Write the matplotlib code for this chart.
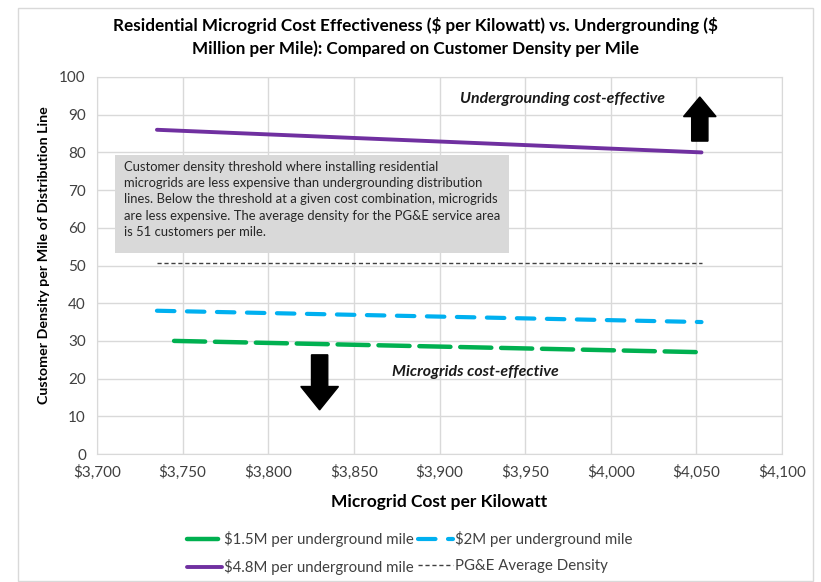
import matplotlib
matplotlib.use("Agg")
import matplotlib.pyplot as plt
from matplotlib.patches import Rectangle, FancyArrow

plt.rcParams['font.family'] = ['Lato', 'DejaVu Sans']

# Data
cost_x = [3735, 4053]
green_x = [3745, 4053]
y_1_5M = [30, 27]
y_2M = [38, 35]
y_4_8M = [86, 80]
pge_avg = [50.7, 50.7]
x_ticks = [3700, 3750, 3800, 3850, 3900, 3950, 4000, 4050, 4100]
y_ticks = [0, 10, 20, 30, 40, 50, 60, 70, 80, 90, 100]

fig = plt.figure(figsize=(8.21, 5.82), dpi=100)
ax = fig.add_axes([97/821, 1-454/582, (782-97)/821, (454-77)/582])

ax.plot(green_x, y_1_5M, color='#00B050', lw=3.2, dashes=(7, 2.2), solid_capstyle='round',
        dash_capstyle='round', label='$1.5M per underground mile')
ax.plot(cost_x, y_2M, color='#00B0F0', lw=3.0, dashes=(4.2, 3), dash_capstyle='round',
        label='$2M per underground mile')
ax.plot(cost_x, y_4_8M, color='#7030A0', lw=2.8, solid_capstyle='round',
        label='$4.8M per underground mile')
ax.plot(cost_x, pge_avg, color='#404040', lw=1.0, dashes=(3, 2),
        label='PG&E Average Density')

ax.set_xlim(3700, 4100)
ax.set_ylim(0, 100)
ax.set_xticks(x_ticks)
ax.set_yticks(y_ticks)
ax.set_xticklabels([f"${v:,}" for v in x_ticks])
ax.grid(True, color='#d9d9d9', lw=1.0)
ax.set_axisbelow(True)
for s in ax.spines.values():
    s.set_color('#d9d9d9')
ax.tick_params(length=0, labelsize=11, colors='#404040', pad=8)
for lab in ax.get_xticklabels() + ax.get_yticklabels():
    lab.set_color('#404040')

ax.set_xlabel('Microgrid Cost per Kilowatt', fontsize=12.5, fontweight='bold', labelpad=10)
ax.set_ylabel('Customer Density per Mile of Distribution Line', fontsize=10.3,
              fontweight='bold', va='center')
ax.yaxis.set_label_coords(-0.077, 0.528)

fig.text(415/821, 1-25/582, 'Residential Microgrid Cost Effectiveness (\\$ per Kilowatt) vs. Undergrounding (\\$',
         ha='center', va='center', fontsize=12.3, fontweight='bold')
fig.text(415/821, 1-49/582, 'Million per Mile): Compared on Customer Density per Mile',
         ha='center', va='center', fontsize=12.3, fontweight='bold')

# text box
ax.add_patch(Rectangle((3710.5, 53.3), 3940.6 - 3710.5, 79.3 - 53.3, facecolor='#d9d9d9',
                       edgecolor='none', zorder=3))
ax.text(3716, 77.7, 'Customer density threshold where installing residential\n'
        'microgrids are less expensive than undergrounding distribution\n'
        'lines. Below the threshold at a given cost combination, microgrids\n'
        'are less expensive. The average density for the PG&E service area\n'
        'is 51 customers per mile.', ha='left', va='top', fontsize=9.4,
        color='#262626', linespacing=1.42, zorder=4)

ax.text(3972, 94.2, 'Undergrounding cost-effective', ha='center', va='center', fontsize=11.4,
        fontweight='bold', style='italic', color='#1a1a1a')
ax.text(3921, 21.8, 'Microgrids cost-effective', ha='center', va='center', fontsize=11.4,
        fontweight='bold', style='italic', color='#1a1a1a')

# arrows
ax.add_patch(FancyArrow(4052, 83, 0, 94.7 - 83, width=9.5, head_width=19, head_length=5.2,
                        length_includes_head=True, color='black', zorder=5))
ax.add_patch(FancyArrow(3830, 26.3, 0, 11.7 - 26.3, width=9.5, head_width=22, head_length=6.2,
                        length_includes_head=True, color='black', zorder=5))

h, l = ax.get_legend_handles_labels()
order = [0, 2, 1, 3]
leg = fig.legend([h[i] for i in order], [l[i] for i in order], ncol=2,
                 loc='center', bbox_to_anchor=(410/821, 1-553/582), frameon=False,
                 fontsize=10.8, handlelength=2.3, handletextpad=0.15, columnspacing=0.3,
                 labelspacing=0.8)
for t in leg.get_texts():
    t.set_color('#404040')

fig.add_artist(Rectangle((18/821, 0.002), (813-18)/821, 1-8/582-0.002, transform=fig.transFigure,
                         facecolor='none', edgecolor='#d9d9d9', lw=1))

fig.savefig('out.png', dpi=100)
